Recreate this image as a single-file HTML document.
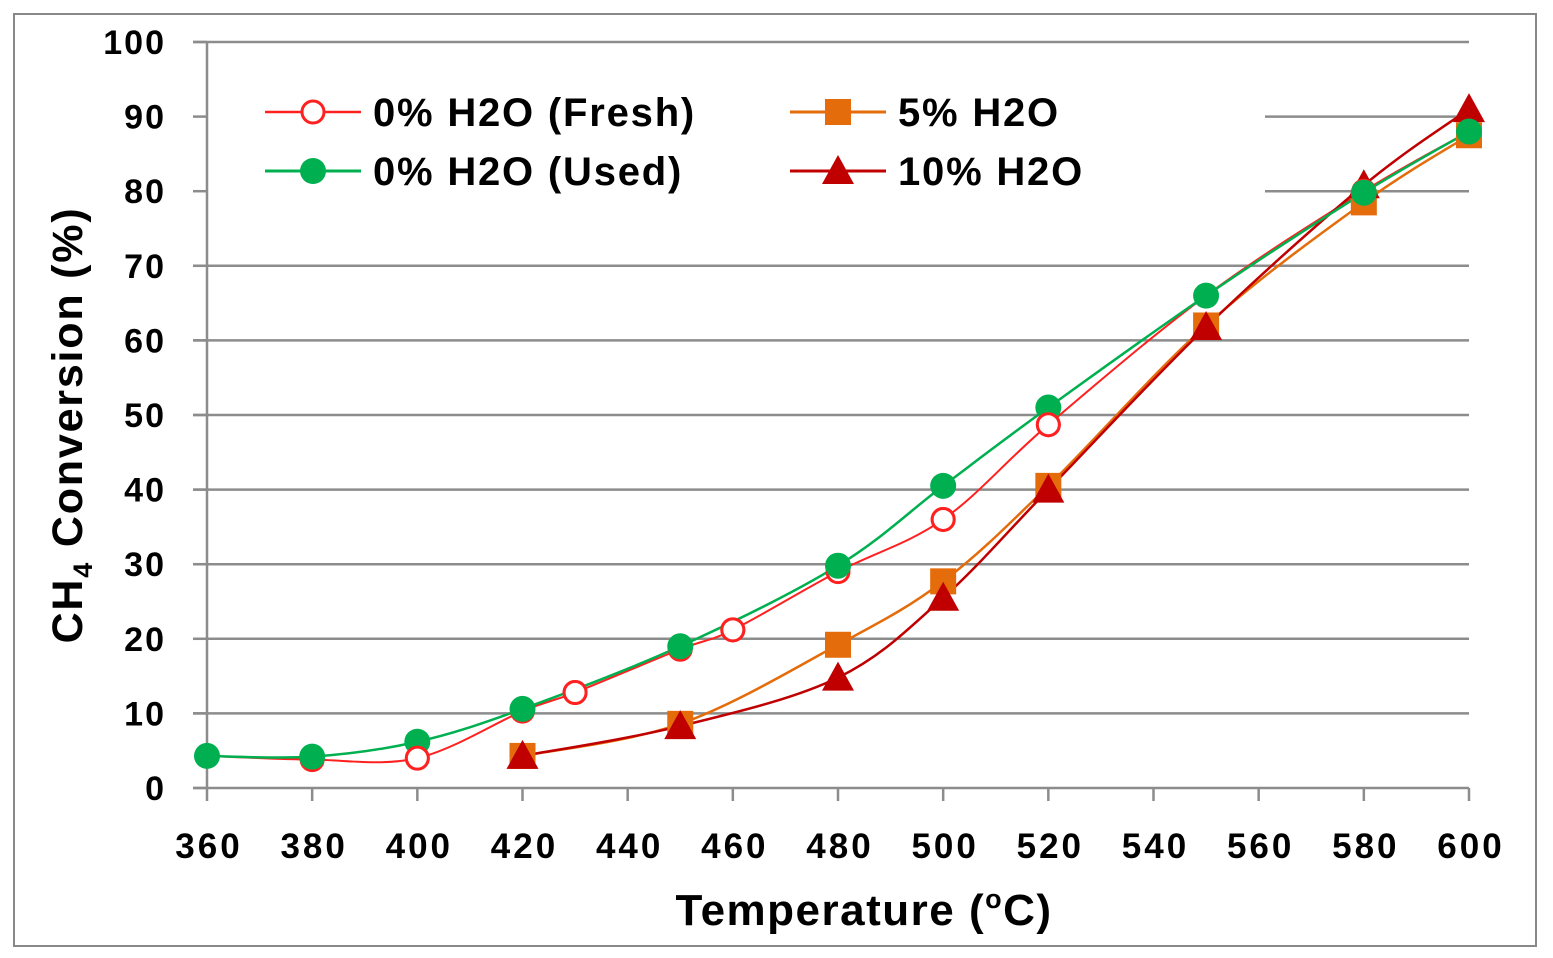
<!DOCTYPE html>
<html><head><meta charset="utf-8"><style>
html,body{margin:0;padding:0;background:#fff;}
svg{display:block;font-family:"Liberation Sans",sans-serif;font-weight:bold;}
</style></head><body>
<svg id="c" width="1553" height="958" viewBox="0 0 1553 958" xmlns="http://www.w3.org/2000/svg">
<rect x="14" y="14" width="1522" height="932" fill="#fff" stroke="#888" stroke-width="2"/>
<g id="grid"></g>
<g id="series"></g>
<g id="legend"></g>
<text x="864" y="925" font-size="44" letter-spacing="1.5" text-anchor="middle">Temperature (<tspan font-size="27" dy="-17">o</tspan><tspan dy="17">C)</tspan></text>
<text transform="translate(82,425) rotate(-90)" font-size="43" letter-spacing="1.8" text-anchor="middle">CH<tspan font-size="27" dy="10">4</tspan><tspan dy="-10"> Conversion (%)</tspan></text>
</svg>
<script>
const NS="http://www.w3.org/2000/svg";
const X=t=>207+(t-360)*(1469-207)/240, Y=v=>788-v*7.46;
function el(p,tag,a,txt){const e=document.createElementNS(NS,tag);for(const k in a)e.setAttribute(k,a[k]);if(txt!==undefined)e.textContent=txt;p.appendChild(e);return e;}
const g=document.getElementById('grid');
for(let v=0;v<=100;v+=10){
  const y=Y(v);
  let x1=193;
  if(v==80||v==90) x1=1265;
  el(g,'line',{x1:x1,x2:1469,y1:y,y2:y,stroke:'#8c8c8c','stroke-width':2.5});
  el(g,'line',{x1:193,x2:207,y1:y,y2:y,stroke:'#8c8c8c','stroke-width':2.5});
  el(g,'text',{x:166,y:y+12,'font-size':34,'letter-spacing':2,'text-anchor':'end'},v);
}
el(g,'line',{x1:207,x2:207,y1:Y(100),y2:Y(0),stroke:'#8c8c8c','stroke-width':2.5});
for(let t=360;t<=600;t+=20){
  const x=X(t);
  el(g,'line',{x1:x,x2:x,y1:788,y2:801,stroke:'#8c8c8c','stroke-width':2.5});
  el(g,'text',{x:x+2,y:858,'font-size':35,'letter-spacing':3,'text-anchor':'middle'},t);
}
function path(pts){
  const p=pts.map(([t,v])=>[X(t),Y(v)]);
  let d='M'+p[0][0]+','+p[0][1];
  for(let i=0;i<p.length-1;i++){
    const p0=p[i-1]||p[i],p1=p[i],p2=p[i+1],p3=p[i+2]||p2;
    const c1=[p1[0]+(p2[0]-p0[0])/6,p1[1]+(p2[1]-p0[1])/6];
    const c2=[p2[0]-(p3[0]-p1[0])/6,p2[1]-(p3[1]-p1[1])/6];
    d+=`C${c1},${c2},${p2}`;
  }
  return d;
}
function marker(p,type,x,y,col){
  if(type=='oc') el(p,'circle',{cx:x,cy:y,r:11,fill:'#fff',stroke:col,'stroke-width':3});
  if(type=='c') el(p,'circle',{cx:x,cy:y,r:13,fill:col});
  if(type=='s') el(p,'rect',{x:x-13,y:y-13,width:26,height:26,fill:col});
  if(type=='t') el(p,'polygon',{points:`${x},${y-16} ${x+16},${y+13} ${x-16},${y+13}`,fill:col});
}
const S=[
 {c:'#ff2020',w:2,m:'oc',d:[[360,4.3],[380,3.8],[400,4],[420,10.3],[430,12.8],[450,18.6],[460,21.2],[480,29],[500,36],[520,48.7],[550,66],[580,80],[600,88]]},
 {c:'#e46c0a',w:2.5,m:'s',d:[[420,4.3],[450,8.6],[480,19.2],[500,27.7],[520,40.5],[550,62],[580,78.5],[600,87.5]]},
 {c:'#c00000',w:2.5,m:'t',d:[[420,4.3],[450,8.3],[480,14.8],[500,25.5],[520,40],[550,61.8],[580,80.8],[600,91]]},
 {c:'#00b050',w:2.5,m:'c',d:[[360,4.3],[380,4.2],[400,6.2],[420,10.6],[450,19],[480,29.8],[500,40.5],[520,51],[550,66],[580,79.8],[600,88]]},
];
const sg=document.getElementById('series');
S.forEach(s=>el(sg,'path',{d:path(s.d),fill:'none',stroke:s.c,'stroke-width':s.w}));
[S[1],S[2],S[0],S[3]].forEach(s=>s.d.forEach(([t,v])=>marker(sg,s.m,X(t),Y(v),s.c)));
S[0].d.filter(d=>[400,430,460,500,520].includes(d[0])).forEach(([t,v])=>marker(sg,'oc',X(t),Y(v),S[0].c));
const lg=document.getElementById('legend');
const L=[[265,112,S[0],'0% H2O (Fresh)'],[265,171,S[3],'0% H2O (Used)'],[790,112,S[1],'5% H2O'],[790,171,S[2],'10% H2O']];
L.forEach(([x,y,s,t])=>{
  el(lg,'line',{x1:x,x2:x+96,y1:y,y2:y,stroke:s.c,'stroke-width':s.w+0.5});
  marker(lg,s.m,x+48,y,s.c);
  el(lg,'text',{x:x+108,y:y+14,'font-size':40,'letter-spacing':1.8},t);
});
</script>
</body></html>
